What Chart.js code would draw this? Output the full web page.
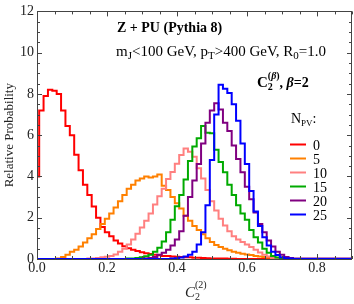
<!DOCTYPE html>
<html>
<head>
<meta charset="utf-8">
<script src="https://cdn.jsdelivr.net/npm/chart.js@4"></script>
<style>
  html, body { margin: 0; padding: 0; background: #fff; }
</style>
</head>
<body>
<canvas id="histChart" width="354" height="304"></canvas>
<script>
// Histograms of C2(beta=2) for different pile-up levels, bin k centred on k * binWidth
const binWidth = 0.0125;
const nPV = ['0', '5', '10', '15', '20', '25'];
const seriesColors = ['#ff0000', '#ff8000', '#ff8080', '#00aa00', '#800080', '#0000ff'];

const npv0 = [4.0, 7.2, 7.9, 8.2, 8.15, 8.0, 7.2, 6.45, 6.0, 5.05, 4.3, 3.6, 3.1, 2.55, 2.0, 1.55, 1.3, 1.1, 0.9, 0.75,
  0.62, 0.52, 0.45, 0.39, 0.33, 0.28, 0.24, 0.2, 0.18, 0.15, 0.14, 0.12, 0.11, 0.1, 0.09, 0.08, 0.06, 0.06, 0.05, 0.04,
  0.03, 0.03, 0.02, 0.02, 0.01, 0.01, 0, 0, 0, 0, 0, 0, 0, 0, 0, 0, 0, 0, 0, 0];
const npv5 = [0, 0, 0, 0, 0, 0.03, 0.1, 0.2, 0.35, 0.45, 0.6, 0.8, 1.0, 1.2, 1.45, 1.7, 1.95, 2.2, 2.5, 2.8,
  3.1, 3.4, 3.6, 3.8, 3.9, 4.0, 3.95, 4.0, 4.1, 3.55, 3.35, 3.0, 2.7, 2.45, 2.1, 1.85, 1.6, 1.4, 1.2, 1.0,
  0.82, 0.68, 0.58, 0.5, 0.42, 0.35, 0.3, 0.26, 0.22, 0.19, 0.15, 0.12, 0.1, 0.07, 0.05, 0.04, 0.03, 0.02, 0.01, 0];
const npv10 = [0, 0, 0, 0, 0, 0, 0, 0, 0, 0, 0, 0, 0.02, 0.03, 0.05, 0.08, 0.11, 0.15, 0.22, 0.35,
  0.5, 0.7, 0.95, 1.22, 1.53, 1.85, 2.2, 2.64, 3.04, 3.4, 3.88, 4.22, 4.62, 5.04, 5.35, 5.2, 4.95, 4.4, 3.9, 3.35,
  2.8, 2.35, 1.95, 1.62, 1.35, 1.1, 0.95, 0.82, 0.7, 0.58, 0.45, 0.32, 0.2, 0.12, 0.06, 0.03, 0.01, 0, 0, 0];
const npv15 = [0, 0, 0, 0, 0, 0, 0, 0, 0, 0, 0, 0, 0, 0, 0, 0, 0, 0, 0, 0,
  0, 0.02, 0.03, 0.05, 0.08, 0.13, 0.2, 0.35, 0.55, 0.85, 1.3, 1.9, 2.56, 3.1, 3.85, 4.75, 5.45, 5.85, 6.45, 6.12,
  6.1, 5.3, 4.7, 4.2, 3.6, 3.1, 2.6, 2.2, 1.9, 1.4, 1.05, 0.8, 0.5, 0.3, 0.15, 0.07, 0.03, 0.01, 0, 0];
const npv20 = [0, 0, 0, 0, 0, 0, 0, 0, 0, 0, 0, 0, 0, 0, 0, 0, 0, 0, 0, 0,
  0, 0, 0, 0, 0, 0.02, 0.05, 0.1, 0.2, 0.3, 0.45, 0.65, 0.95, 1.35, 2.1, 3.0, 3.8, 4.6, 5.6, 6.6,
  7.2, 7.55, 7.25, 6.6, 6.2, 5.5, 4.85, 4.2, 3.5, 2.9, 2.25, 1.7, 1.3, 0.9, 0.6, 0.35, 0.2, 0.1, 0.05, 0.02];
const npv25 = [0, 0, 0, 0, 0, 0, 0, 0, 0, 0, 0, 0, 0, 0, 0, 0, 0, 0, 0, 0,
  0, 0, 0, 0, 0, 0, 0, 0, 0, 0, 0, 0.02, 0.04, 0.07, 0.12, 0.2, 0.35, 0.7, 1.3, 2.6,
  4.8, 7.0, 8.45, 8.25, 8.05, 7.5, 6.7, 5.6, 4.6, 3.3, 2.3, 1.6, 1.05, 0.65, 0.35, 0.19, 0.08, 0.04, 0.02, 0];

const seriesValues = [npv0, npv5, npv10, npv15, npv20, npv25];
const xTickValues = [0, 0.2, 0.4, 0.6, 0.8];
const yTickValues = [0, 2, 4, 6, 8, 10, 12];
const xMax = 0.9;
const yMax = 12;

const serif = '"Liberation Serif", "Times New Roman", serif';
const textColor = '#222';
const frameColor = '#444';

// left bin edges, value holds until the next edge (stepped 'before')
function histPoints(values) {
    const pts = values.map((v, k) => ({ x: (k - 0.5) * binWidth, y: v }));
    pts.push({ x: xMax, y: 0 });
    return pts;
}

// write text pieces one after another: [text, font, dy, noAdvance]
function drawRuns(ctx, x, y, runs) {
    runs.forEach(r => {
        ctx.font = r[1];
        ctx.fillText(r[0], x, y + (r[2] || 0));
        if (!r[3]) x += ctx.measureText(r[0]).width;
    });
    return x;
}

const framePlugin = {
    id: 'frame',
    afterDatasetsDraw(chart) {
        const ctx = chart.ctx;
        const a = chart.chartArea;
        const xs = chart.scales.x;
        const ys = chart.scales.y;
        ctx.save();
        ctx.strokeStyle = frameColor;
        ctx.lineWidth = 1;
        ctx.strokeRect(Math.round(a.left) + 0.5, Math.round(a.top) + 0.5,
            Math.round(a.right - a.left) - 1, Math.round(a.bottom - a.top));
        ctx.beginPath();
        // ticks pointing inward: major every 0.2 / 2, minor every 0.05 / 0.5
        for (let i = 0; i <= 18; i++) {
            const px = Math.round(xs.getPixelForValue(i * 0.05)) + 0.5;
            const len = i % 4 === 0 ? 5 : 3;
            ctx.moveTo(px, a.bottom); ctx.lineTo(px, a.bottom - len);
            ctx.moveTo(px, a.top); ctx.lineTo(px, a.top + len);
        }
        for (let i = 0; i <= 24; i++) {
            const py = Math.round(ys.getPixelForValue(i * 0.5)) + 0.5;
            const len = i % 4 === 0 ? 5 : 3;
            ctx.moveTo(a.left, py); ctx.lineTo(a.left + len, py);
            ctx.moveTo(a.right, py); ctx.lineTo(a.right - len, py);
        }
        ctx.stroke();
        ctx.restore();
    },
    afterDraw(chart) {
        const ctx = chart.ctx;
        const a = chart.chartArea;
        ctx.save();
        ctx.fillStyle = '#000';
        ctx.textBaseline = 'alphabetic';
        ctx.textAlign = 'left';

        drawRuns(ctx, 117, 32, [['Z + PU (Pythia 8)', 'bold 14px ' + serif]]);

        drawRuns(ctx, 116, 56, [
            ['m', '15px ' + serif], ['J', '11px ' + serif, 3],
            ['<100 GeV, p', '15px ' + serif], ['T', '11px ' + serif, 3],
            ['>400 GeV, R', '15px ' + serif], ['0', '11px ' + serif, 3],
            ['=1.0', '15px ' + serif]
        ]);

        drawRuns(ctx, 257, 87, [
            ['C', 'bold 15px ' + serif], ['2', 'bold 10px ' + serif, 3, true],
            ['(', 'bold 10px ' + serif, -8], ['\u03b2', 'bold italic 10px ' + serif, -8], [')', 'bold 10px ' + serif, -8],
            [', ', 'bold 14px ' + serif], ['\u03b2', 'bold italic 14px ' + serif], ['=2', 'bold 14px ' + serif]
        ]);

        // legend
        drawRuns(ctx, 291, 122.5, [['N', '14px ' + serif], ['PV', '9px ' + serif, 3], [':', '14px ' + serif]]);
        nPV.forEach((lab, i) => {
            const yy = 144.5 + i * 14;
            ctx.strokeStyle = seriesColors[i];
            ctx.lineWidth = 2;
            ctx.beginPath();
            ctx.moveTo(290, yy); ctx.lineTo(306, yy);
            ctx.stroke();
            ctx.fillStyle = '#000';
            drawRuns(ctx, 313, yy + 5, [[lab, '14px ' + serif]]);
        });

        // axis titles
        ctx.fillStyle = textColor;
        drawRuns(ctx, 185, 297, [
            ['C', 'italic 15px ' + serif], ['2', '10px ' + serif, 3, true],
            ['(2)', '10px ' + serif, -9]
        ]);
        ctx.translate(10, (a.top + a.bottom) / 2);
        ctx.rotate(-Math.PI / 2);
        ctx.textAlign = 'center';
        ctx.textBaseline = 'middle';
        ctx.font = '13px ' + serif;
        ctx.fillText('Relative Probability', 0, 0);
        ctx.restore();
    }
};

const canvas = document.getElementById('histChart');
new Chart(canvas.getContext('2d'), {
    type: 'line',
    data: {
        datasets: seriesValues.map((vals, i) => ({
            label: nPV[i],
            data: histPoints(vals),
            borderColor: seriesColors[i],
            borderWidth: 2,
            pointRadius: 0,
            fill: false,
            stepped: 'before',
            order: seriesValues.length - i
        }))
    },
    options: {
        responsive: false,
        animation: false,
        layout: { padding: { top: 6, right: 2, left: 0, bottom: 0 } },
        plugins: {
            legend: { display: false },
            tooltip: { enabled: false }
        },
        scales: {
            x: {
                type: 'linear',
                min: 0,
                max: xMax,
                grid: { display: false, drawTicks: false },
                border: { display: false },
                ticks: {
                    padding: 1,
                    color: textColor,
                    font: { family: serif, size: 14 },
                    callback: v => v.toFixed(1)
                },
                afterBuildTicks: s => { s.ticks = xTickValues.map(v => ({ value: v })); },
                afterFit: s => { s.height = 45; }
            },
            y: {
                min: 0,
                max: yMax,
                grid: { display: false, drawTicks: false },
                border: { display: false },
                ticks: {
                    padding: 3,
                    color: textColor,
                    font: { family: serif, size: 14 }
                },
                afterBuildTicks: s => { s.ticks = yTickValues.map(v => ({ value: v })); },
                afterFit: s => { s.width = 37; }
            }
        }
    },
    plugins: [framePlugin]
});
</script>
</body>
</html>
